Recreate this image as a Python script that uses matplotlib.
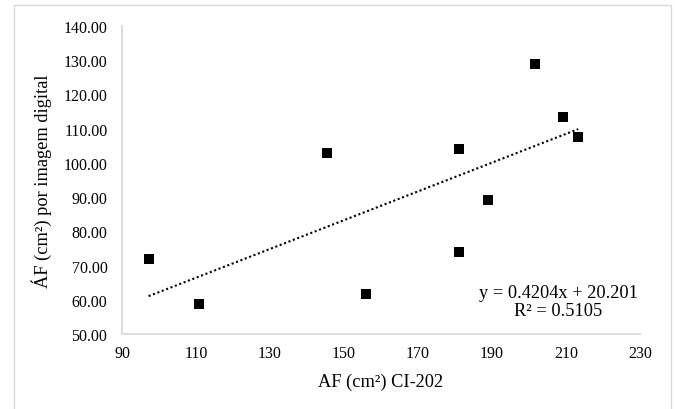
import numpy as np
import matplotlib
matplotlib.use('Agg')
import matplotlib.pyplot as plt
from matplotlib.patches import Rectangle
from matplotlib.ticker import FuncFormatter

plt.rcParams['font.family'] = ['Liberation Serif', 'DejaVu Serif']

# leaf area measured with CI-202 vs leaf area from digital image
af_ci202 = [97.2, 110.8, 145.3, 156.0, 181.0, 181.0, 188.9, 201.6, 209.2, 213.3]
af_imagem = [71.9, 58.7, 102.9, 61.6, 104.1, 74.1, 89.3, 128.8, 113.4, 107.7]

# linear trend as reported on the chart
slope = 0.4204
intercept = 20.201
eq_text = 'y = 0.4204x + 20.201'
r2_text = 'R² = 0.5105'

x_ticks = [90, 110, 130, 150, 170, 190, 210, 230]
y_ticks = [50, 60, 70, 80, 90, 100, 110, 120, 130, 140]

W, H = 675, 410
fig = plt.figure(figsize=(W / 100, H / 100), dpi=100)

# outer chart frame
fig.patches.append(Rectangle((14 / W, -0.1), (671 - 14) / W, 1.1 - 6 / H,
                             transform=fig.transFigure, fill=False,
                             edgecolor='#d9d9d9', linewidth=1.0))

ax = fig.add_axes([122 / W, 1 - 335 / H, (640 - 122) / W, (335 - 27) / H])

ax.scatter(af_ci202, af_imagem, marker='s', s=6.5 ** 2, color='black',
           zorder=3, linewidths=0)

xs = np.array([min(af_ci202), max(af_ci202)])
ax.plot(xs, slope * xs + intercept, color='black', linewidth=1.5,
        linestyle=(0, (1, 1.25)), zorder=2)

ax.text(0.995, 0.105, eq_text + '\n' + r2_text, transform=ax.transAxes,
        ha='right', va='center', fontsize=13.2, multialignment='center',
        linespacing=1.1)

ax.set_xlim(90, 230)
ax.set_ylim(50, 140)
ax.set_xticks(x_ticks)
ax.set_yticks(y_ticks)
ax.yaxis.set_major_formatter(FuncFormatter(lambda v, p: f'{v:.2f}'))
ax.tick_params(length=0, labelsize=11.5, colors='#000000')
ax.tick_params(axis='x', pad=8)
ax.tick_params(axis='y', pad=10.5)

for side in ['top', 'right']:
    ax.spines[side].set_visible(False)
for side in ['left', 'bottom']:
    ax.spines[side].set_color('#d9d9d9')
    ax.spines[side].set_linewidth(1.3)

ax.set_xlabel('AF (cm²) CI-202', fontsize=13.2, labelpad=8)
ax.set_ylabel('ÁF (cm²) por imagem digital', fontsize=13.2, labelpad=8)

fig.savefig('out.png', dpi=100)
